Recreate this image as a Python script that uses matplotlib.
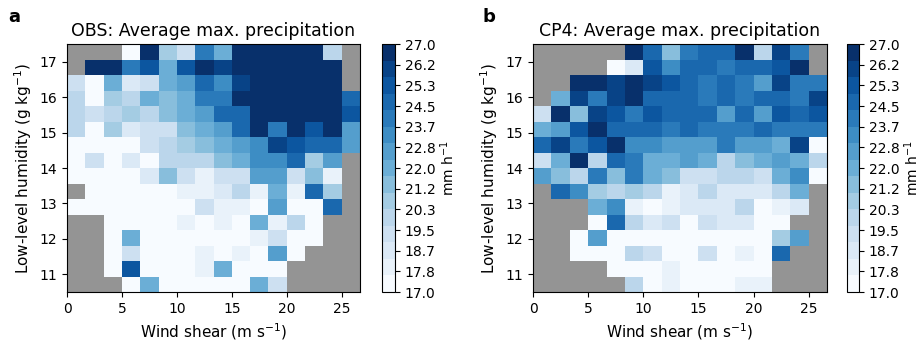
import numpy as np
import matplotlib.pyplot as plt
from matplotlib.colors import Normalize

nan = np.nan

# bins: wind shear (m/s) and low-level humidity (g/kg)
shear_edges = np.linspace(0, 80 / 3, 17)
humidity_edges = np.linspace(10.5, 17.5, 17)

# average max. precipitation (mm/h), rows from the top bin (17.5 g/kg) down
obs_precip = [
    [nan, nan, nan, 17.2, 26.8, 20.7, 19.3, 24.0, 22.0, 27.4, 27.9, 28.3, 27.6, 27.1, 20.0, nan],
    [nan, 26.9, 26.7, 24.0, 25.3, 22.0, 25.3, 26.8, 26.0, 27.2, 28.1, 28.5, 27.7, 27.3, 26.9, nan],
    [19.3, 17.1, 22.0, 18.7, 19.3, 22.0, 22.7, 24.7, 23.3, 26.0, 27.0, 28.2, 28.4, 27.5, 27.1, nan],
    [20.0, 17.2, 20.7, 20.0, 22.0, 21.3, 22.0, 24.0, 24.0, 26.8, 27.3, 28.0, 28.6, 27.8, 27.0, 24.7],
    [20.0, 19.3, 20.0, 20.7, 20.0, 21.3, 22.0, 22.7, 24.7, 24.7, 26.9, 27.6, 28.1, 27.4, 26.8, 25.3],
    [20.0, 17.3, 20.7, 18.7, 19.3, 19.3, 21.3, 22.0, 22.7, 24.7, 26.8, 24.0, 27.2, 25.3, 26.9, 22.7],
    [17.2, 17.4, 17.1, 17.3, 19.3, 20.0, 20.7, 21.3, 22.0, 22.7, 23.3, 26.0, 25.3, 24.7, 24.7, 22.7],
    [17.3, 19.3, 17.2, 18.7, 17.4, 20.0, 20.0, 20.0, 21.3, 22.0, 23.3, 23.3, 24.7, 20.7, 22.7, nan],
    [17.1, 17.2, 17.3, 17.2, 18.7, 21.3, 19.3, 18.0, 19.3, 19.3, 22.7, 22.7, 19.3, 21.3, 18.0, nan],
    [nan, 17.2, 17.1, 17.3, 17.2, 17.4, 18.0, 18.0, 18.7, 20.0, 18.0, 22.0, 18.0, 24.7, 20.7, nan],
    [17.3, 17.1, 17.2, 17.2, 17.3, 17.1, 17.4, 19.3, 18.0, 18.0, 17.3, 22.7, 17.2, 17.3, 24.7, nan],
    [nan, nan, 17.2, 17.3, 17.1, 17.2, 18.0, 17.3, 18.0, 17.2, 22.0, 18.0, 20.0, 17.3, nan, nan],
    [nan, nan, 17.3, 22.0, 17.2, 17.1, 17.3, 17.2, 17.4, 17.3, 18.0, 19.3, 17.2, 17.3, nan, nan],
    [nan, nan, 17.1, 19.3, 17.3, 17.2, 17.3, 18.0, 17.2, 18.0, 17.3, 22.7, 17.2, nan, nan, nan],
    [nan, nan, 17.2, 25.3, 17.3, 17.1, 17.2, 18.0, 22.0, 17.3, 17.2, 17.3, nan, nan, nan, nan],
    [nan, nan, nan, 17.3, 22.0, 17.2, 17.1, 17.3, 17.2, 17.3, 22.0, 19.3, nan, nan, nan, nan],
]

cp4_precip = [
    [nan, nan, nan, nan, nan, 26.9, 24.7, 21.3, 24.0, 24.7, 24.7, 27.1, 20.0, 26.0, 24.0, nan],
    [nan, nan, nan, nan, 17.3, 18.7, 25.3, 23.3, 24.7, 24.7, 24.0, 24.7, 24.7, 25.3, 26.8, nan],
    [nan, nan, 26.8, 26.9, 26.0, 27.0, 26.0, 25.3, 24.7, 24.0, 24.7, 24.0, 22.7, 26.0, 24.0, 24.0],
    [nan, 22.0, 26.0, 24.0, 26.0, 26.8, 24.7, 24.7, 24.7, 24.0, 24.7, 24.0, 24.7, 24.7, 24.0, 26.0],
    [19.3, 26.9, 21.3, 26.0, 25.3, 24.0, 25.3, 24.7, 24.7, 24.7, 22.7, 24.7, 22.7, 25.3, 24.7, 25.3],
    [22.0, 22.7, 25.3, 26.8, 24.7, 24.7, 24.7, 24.0, 24.7, 24.0, 24.0, 24.0, 24.7, 24.0, 24.0, 24.0],
    [24.7, 26.0, 24.0, 25.3, 26.9, 23.3, 23.3, 22.7, 22.7, 22.7, 24.0, 22.7, 22.7, 22.0, 26.0, 17.3],
    [19.3, 22.0, 26.8, 20.0, 24.7, 24.0, 22.0, 22.0, 22.7, 22.0, 20.0, 21.3, 22.0, 22.7, 22.0, 20.0],
    [22.7, 21.3, 20.0, 24.0, 21.3, 24.0, 22.0, 21.3, 19.3, 19.3, 20.0, 20.0, 19.3, 22.0, 23.3, 17.2],
    [nan, 24.7, 23.3, 20.7, 20.0, 20.7, 20.0, 18.0, 18.7, 20.0, 18.7, 18.7, 18.7, 20.0, 22.0, nan],
    [nan, nan, nan, 22.0, 23.3, 18.0, 17.3, 18.0, 18.7, 18.7, 18.7, 20.0, 17.2, 18.0, 18.7, nan],
    [nan, nan, nan, 17.3, 24.7, 20.0, 18.7, 19.3, 17.2, 19.3, 18.7, 18.7, 17.3, 17.2, nan, nan],
    [nan, nan, 17.2, 22.7, 17.3, 17.1, 17.2, 17.3, 17.2, 17.4, 17.3, 17.1, 17.2, 20.7, 22.7, nan],
    [nan, nan, 17.3, 17.2, 17.1, 20.0, 19.3, 17.2, 17.3, 19.3, 17.2, 18.0, 17.3, 24.7, nan, nan],
    [nan, nan, nan, nan, 17.2, 17.3, 17.1, 18.0, 17.2, 17.3, 17.2, 17.1, 17.3, nan, nan, nan],
    [nan, nan, nan, nan, nan, 20.0, 17.2, 18.0, 17.3, 17.2, 17.1, 18.0, 18.0, nan, nan, nan],
]

titles = ['OBS: Average max. precipitation', 'CP4: Average max. precipitation']
letters = ['a', 'b']
cbar_ticks = np.linspace(17, 27, 13)

cmap = plt.get_cmap('Blues', 15)
norm = Normalize(vmin=17, vmax=27)

fig = plt.figure(figsize=(9.18, 3.42), dpi=100)

# [left, bottom, width, height] of the two maps and their colorbars
ax_pos = [[67, 50, 293, 248], [533, 50, 294, 248]]
cax_pos = [[382, 50, 13, 248], [847, 50, 12, 248]]
letter_x = [8, 483]

for i, data in enumerate([obs_precip, cp4_precip]):
    l, b, w, h = ax_pos[i]
    ax = fig.add_axes([l / 918, b / 342, w / 918, h / 342])
    grid = np.ma.masked_invalid(np.flipud(np.array(data)))
    mesh = ax.pcolormesh(shear_edges, humidity_edges, grid, cmap=cmap, norm=norm)
    ax.set_facecolor('#949494')
    ax.set_xticks([0, 5, 10, 15, 20, 25])
    ax.set_yticks([11, 12, 13, 14, 15, 16, 17])
    ax.set_xlabel('Wind shear (m s$^{-1}$)', fontsize=11)
    ax.set_ylabel('Low-level humidity (g kg$^{-1}$)', fontsize=11)
    ax.set_title(titles[i], fontsize=12.5)
    ax.tick_params(labelsize=10)

    l, b, w, h = cax_pos[i]
    cax = fig.add_axes([l / 918, b / 342, w / 918, h / 342])
    cb = fig.colorbar(mesh, cax=cax, ticks=cbar_ticks, format='%.1f')
    cb.ax.tick_params(labelsize=10)
    cb.set_label('mm h$^{-1}$', fontsize=10, labelpad=2)

    fig.text(letter_x[i] / 918, 1 - 22 / 342, letters[i], fontsize=13, weight='bold')

plt.savefig('out.png', dpi=100)
